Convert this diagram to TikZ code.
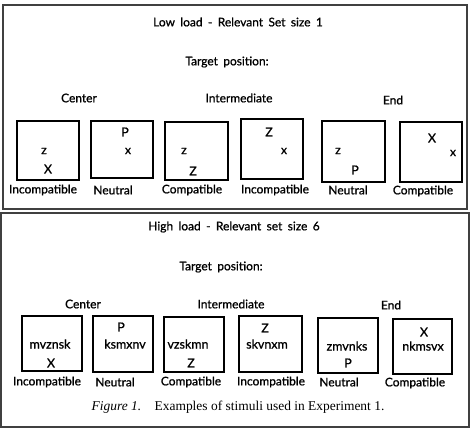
\documentclass[tikz,border=0pt]{standalone}
\usepackage{fontspec}
\setmainfont{Lato}
\newfontfamily\plainfont{Lato}[FakeBold=0.9]
\newfontfamily\capfont{Liberation Serif}
\newcommand\widesp{\spaceskip=0.45em\relax}
\begin{document}
\begin{tikzpicture}[x=1bp,y=-1bp,
  panel/.style={draw=black!75,line width=1.4bp},
  stim/.style={draw=black,line width=1.2bp},
  lbl/.style={font=\plainfont\fontsize{12}{14}\selectfont,inner sep=0pt},
  ttl/.style={font=\plainfont\fontsize{12}{14}\selectfont\widesp,inner sep=0pt},
  ltr/.style={font=\plainfont\fontsize{12.5}{14}\selectfont,inner sep=0pt}]
\useasboundingbox (0,0) rectangle (474,430);
% panels
\draw[panel] (3,5) rectangle (467,209);
\draw[panel] (1,213) rectangle (469,427);
% ---------- top panel ----------
\node[ttl] (t1) at (238,22) {Low load - Relevant Set size 1};
\node[ttl] (tp1) at (227,62) {Target position:};
\node[ttl] (c1) at (79,98) {Center};
\node[ttl] (i1) at (239,98) {Intermediate};
\node[ttl] (e1) at (393,100) {End};
\draw[stim] (17,121) rectangle (79,180);
\draw[stim] (91,121) rectangle (153,178);
\draw[stim] (165,122) rectangle (228,180);
\draw[stim] (241,119) rectangle (303,179);
\draw[stim] (322,121) rectangle (385,182);
\draw[stim] (400,122) rectangle (462,182);
\node[ltr] (a1) at (44,151) {z};
\node[ltr] (a2) at (48,169) {X};
\node[ltr] (b1) at (125,132) {P};
\node[ltr] (b2) at (128,151) {x};
\node[ltr] (c1a) at (184,151) {z};
\node[ltr] (c2a) at (193,171) {Z};
\node[ltr] (d1) at (269,132) {Z};
\node[ltr] (d2) at (284,151) {x};
\node[ltr] (e1a) at (338,151) {z};
\node[ltr] (e2a) at (355,170) {P};
\node[ltr] (f1) at (432,138) {X};
\node[ltr] (f2) at (453,153) {x};
\node[lbl] (l1) at (43,190) {Incompatible};
\node[lbl] (l2) at (113,190) {Neutral};
\node[lbl] (l3) at (192,190) {Compatible};
\node[lbl] (l4) at (275,190) {Incompatible};
\node[lbl] (l5) at (348,190) {Neutral};
\node[lbl] (l6) at (423,191) {Compatible};
% ---------- bottom panel ----------
\node[ttl] (t2) at (234,227) {High load - Relevant set size 6};
\node[ttl] (tp2) at (221,267) {Target position:};
\node[ttl] (c2) at (83,304) {Center};
\node[ttl] (i2) at (231,304) {Intermediate};
\node[ttl] (e2) at (391,305) {End};
\draw[stim] (22,316) rectangle (82,371);
\draw[stim] (93,316) rectangle (153,372);
\draw[stim] (164,317) rectangle (224,372);
\draw[stim] (239,316) rectangle (302,372);
\draw[stim] (318,318) rectangle (378,373);
\draw[stim] (393,319) rectangle (452,374);
\node[ltr] (g1) at (50,344) {mvznsk};
\node[ltr] (g2) at (51,363) {X};
\node[ltr] (h1) at (121,327) {P};
\node[ltr] (h2) at (125,344) {ksmxnv};
\node[ltr] (k1) at (188,344) {vzskmn};
\node[ltr] (k2) at (191,363) {Z};
\node[ltr] (m1) at (265,328) {Z};
\node[ltr] (m2) at (267,344) {skvnxm};
\node[ltr] (n1) at (347,346) {zmvnks};
\node[ltr] (n2) at (348,363) {P};
\node[ltr] (o1) at (424,332) {X};
\node[ltr] (o2) at (423,346) {nkmsvx};
\node[lbl] (q1) at (47,382) {Incompatible};
\node[lbl] (q2) at (115,382) {Neutral};
\node[lbl] (q3) at (191,382) {Compatible};
\node[lbl] (q4) at (271,382) {Incompatible};
\node[lbl] (q5) at (339,382) {Neutral};
\node[lbl] (q6) at (415,383) {Compatible};
\node[inner sep=0pt,font=\capfont\fontsize{13.5}{15}\selectfont] (cap) at (238,407) {\textit{Figure 1.}\quad Examples of stimuli used in Experiment 1.};
\end{tikzpicture}
\end{document}
